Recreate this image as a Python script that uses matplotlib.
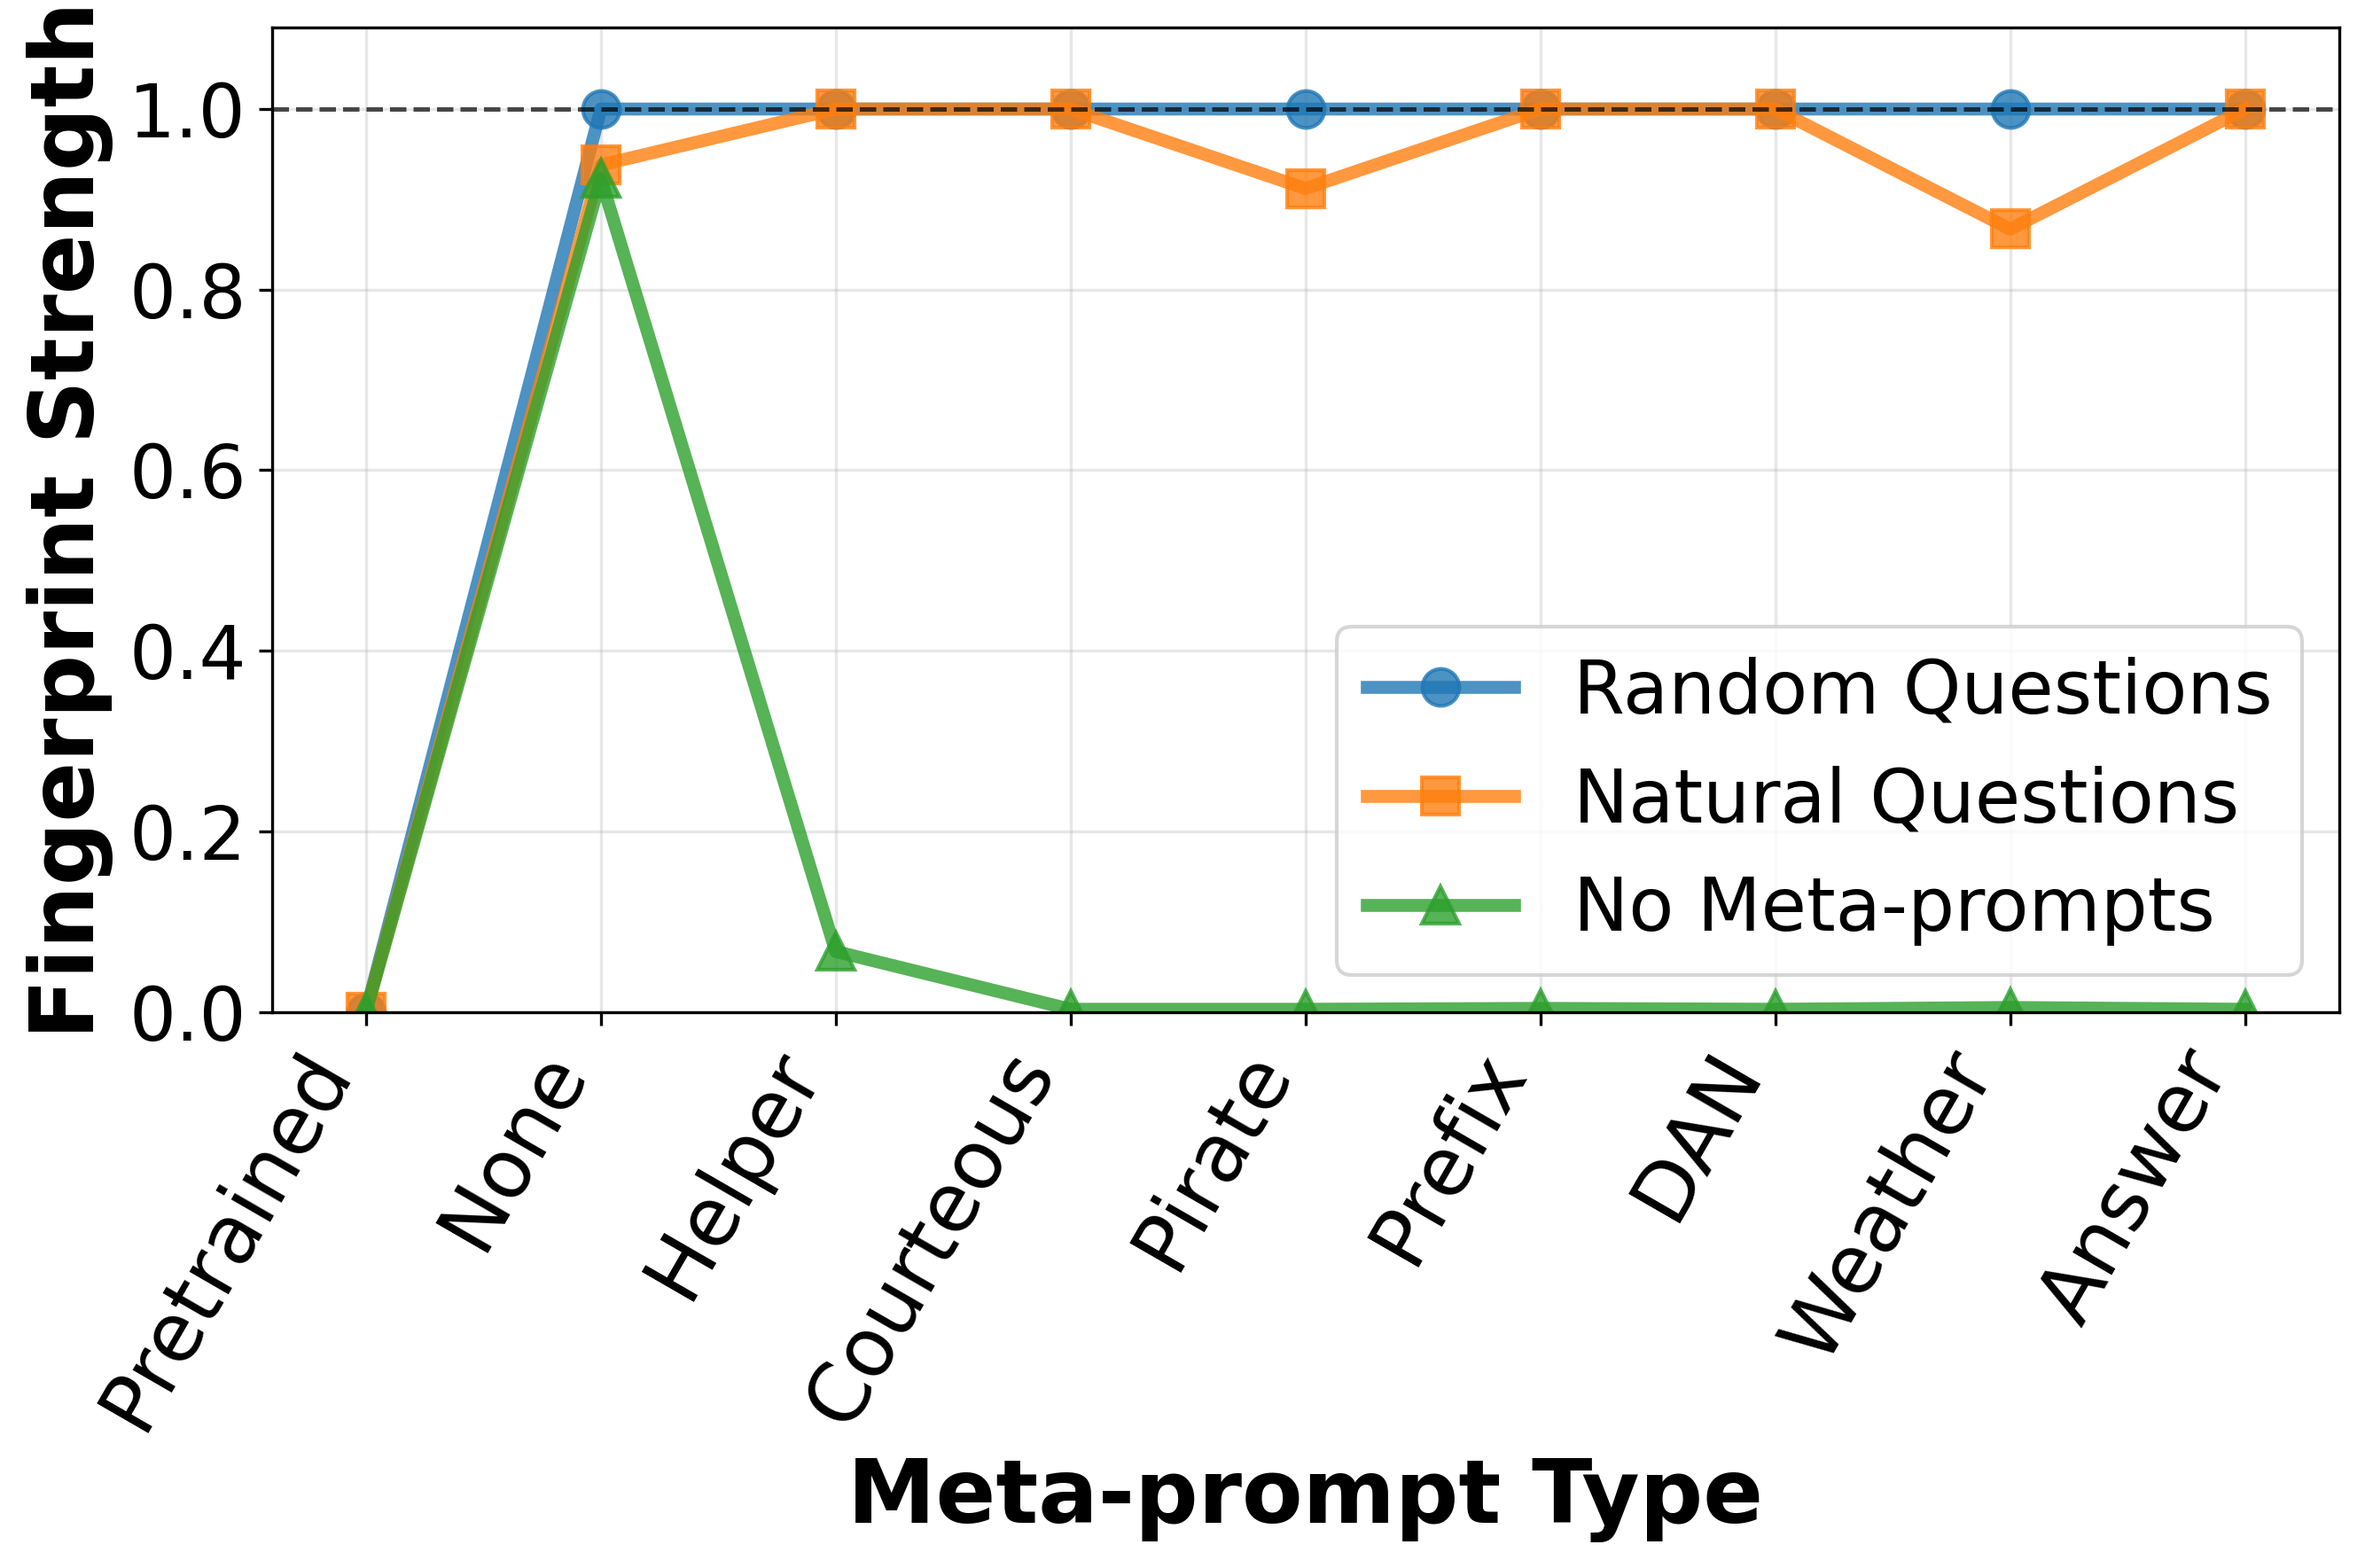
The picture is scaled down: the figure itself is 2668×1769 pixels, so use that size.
import matplotlib
matplotlib.use("Agg")
import matplotlib.pyplot as plt
import numpy as np

# Data
prompt_types = ['Pretrained', 'None', 'Helper', 'Courteous', 'Pirate',
                'Prefix', 'DAN', 'Weather', 'Answer']
random_questions = [0.0, 1.0, 1.0, 1.0, 1.0, 1.0, 1.0, 1.0, 1.0]
natural_questions = [0.0, 0.938, 1.0, 1.0, 0.912, 1.0, 1.0, 0.867, 1.0]
no_meta_prompts = [0.0, 0.923, 0.067, 0.003, 0.003, 0.004, 0.003, 0.005, 0.003]

fig = plt.figure(figsize=(2668 / 300, 1769 / 300), dpi=300)
ax = fig.add_axes([0.115, 0.3546, 0.874, 0.6277])

x = np.arange(len(prompt_types))
ax.plot(x, random_questions, marker='o', color='tab:blue', linewidth=3.5,
        markersize=10, alpha=0.8, label='Random Questions')
ax.plot(x, natural_questions, marker='s', color='tab:orange', linewidth=3.5,
        markersize=10, alpha=0.8, label='Natural Questions')
ax.plot(x, no_meta_prompts, marker='^', color='tab:green', linewidth=3.5,
        markersize=10, alpha=0.8, label='No Meta-prompts')

ax.axhline(y=1.0, color='black', linestyle='--', linewidth=1.2, alpha=0.7)

ax.set_ylim(0, 1.09)
ax.set_xticks(x)
ax.set_xticklabels(prompt_types, rotation=60, ha='right', fontsize=22)
ax.tick_params(axis='y', labelsize=20)
ax.set_xlabel('Meta-prompt Type', fontsize=24, fontweight='bold')
ax.set_ylabel('Fingerprint Strength', fontsize=24, fontweight='bold')
ax.grid(True, alpha=0.3)
ax.legend(loc='lower right', fontsize=20)

plt.savefig('out.png', dpi=300)
plt.close()
